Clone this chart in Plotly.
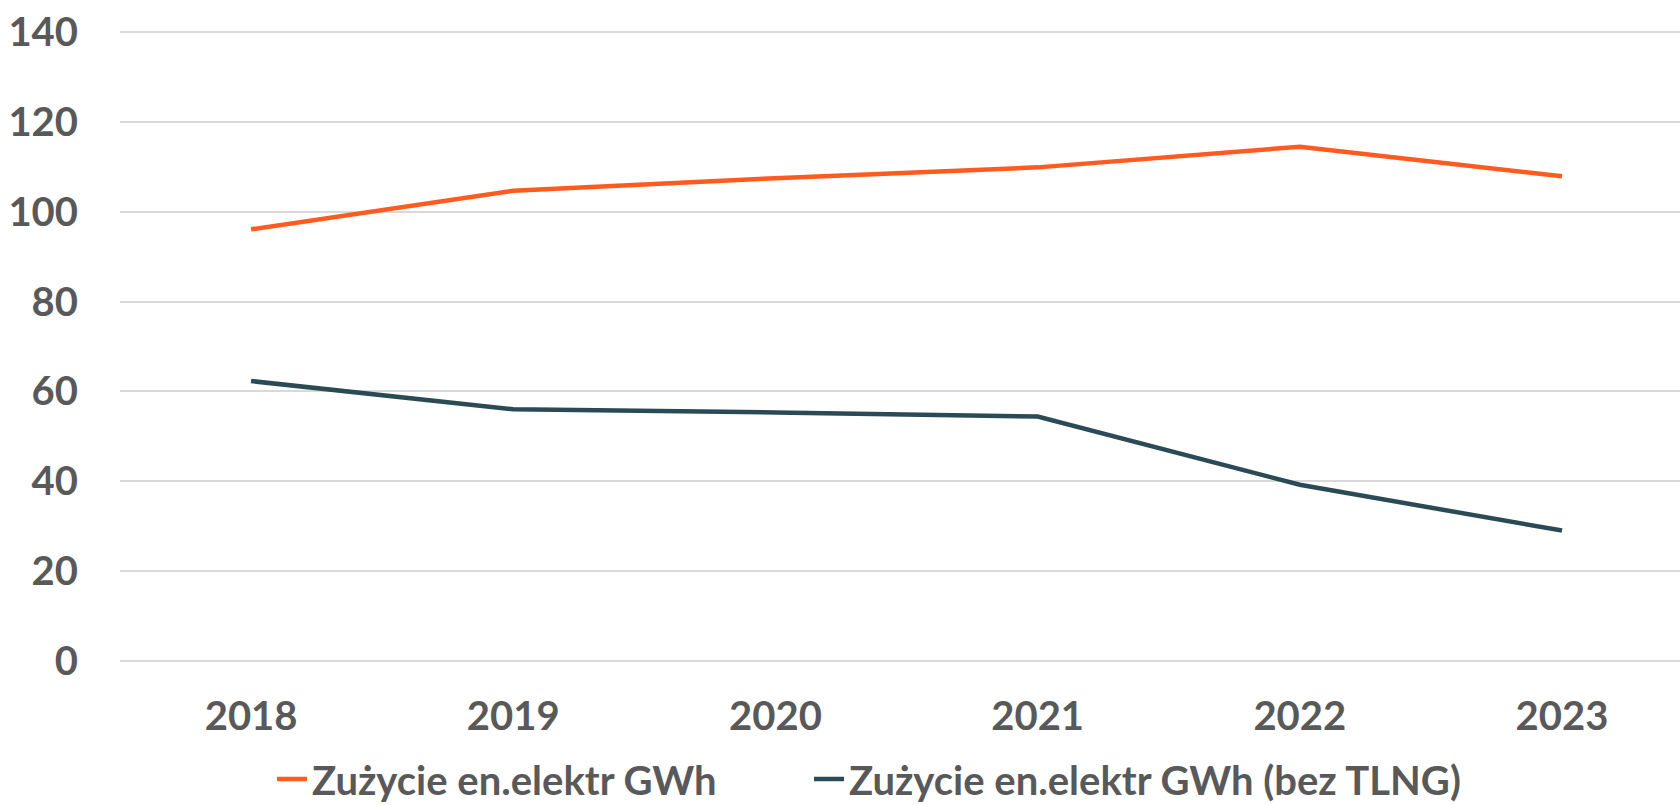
import plotly.graph_objects as go

years = ["2018", "2019", "2020", "2021", "2022", "2023"]
series_total_name = "Zużycie en.elektr GWh"
series_total = [96.1, 104.7, 107.5, 109.9, 114.5, 107.9]
series_no_tlng_name = "Zużycie en.elektr GWh (bez TLNG)"
series_no_tlng = [62.3, 56.0, 55.3, 54.4, 39.2, 29.0]
y_ticks = [0, 20, 40, 60, 80, 100, 120, 140]

ORANGE = "#FF5A1F"
DARK = "#2A4A55"
TEXT = "#595959"
FONT = dict(family="Lato", size=40, color=TEXT, weight="bold")
LEGFONT = dict(family="Lato", size=40, color=TEXT, weight="bold")

fig = go.Figure()
fig.add_trace(go.Scatter(x=years, y=series_total, name=series_total_name,
                         mode="lines", line=dict(color=ORANGE, width=4.5),
                         legend="legend"))
fig.add_trace(go.Scatter(x=years, y=series_no_tlng, name=series_no_tlng_name,
                         mode="lines", line=dict(color=DARK, width=4.5),
                         legend="legend2"))

fig.update_layout(
    width=1680, height=805,
    margin=dict(l=120, r=0, t=30, b=142, autoexpand=False),
    paper_bgcolor="white", plot_bgcolor="white",
    font=FONT,
    showlegend=True,
    legend=dict(xref="container", yref="container", x=272 / 1680, xanchor="left",
                y=1 - 779 / 805, yanchor="middle", font=LEGFONT,
                bgcolor="rgba(0,0,0,0)"),
    legend2=dict(xref="container", yref="container", x=809 / 1680, xanchor="left",
                 y=1 - 779 / 805, yanchor="middle", font=LEGFONT,
                 bgcolor="rgba(0,0,0,0)"),
)
fig.update_xaxes(type="category", range=[-0.5, 5.45], showgrid=False, showline=False,
                 zeroline=False, ticks="", ticklabelstandoff=26, automargin=False,
                 tickfont=FONT)
fig.update_yaxes(range=[-0.5, 140.5], tickvals=y_ticks, showgrid=True, gridcolor="#D9D9D9",
                 gridwidth=1.5, zeroline=False, showline=False, ticks="", automargin=False,
                 ticklabelstandoff=41, tickfont=FONT)

fig.write_html("out.html", config={"displayModeBar": False},
               post_script="document.body.style.margin='0';document.body.style.overflow='hidden';")
